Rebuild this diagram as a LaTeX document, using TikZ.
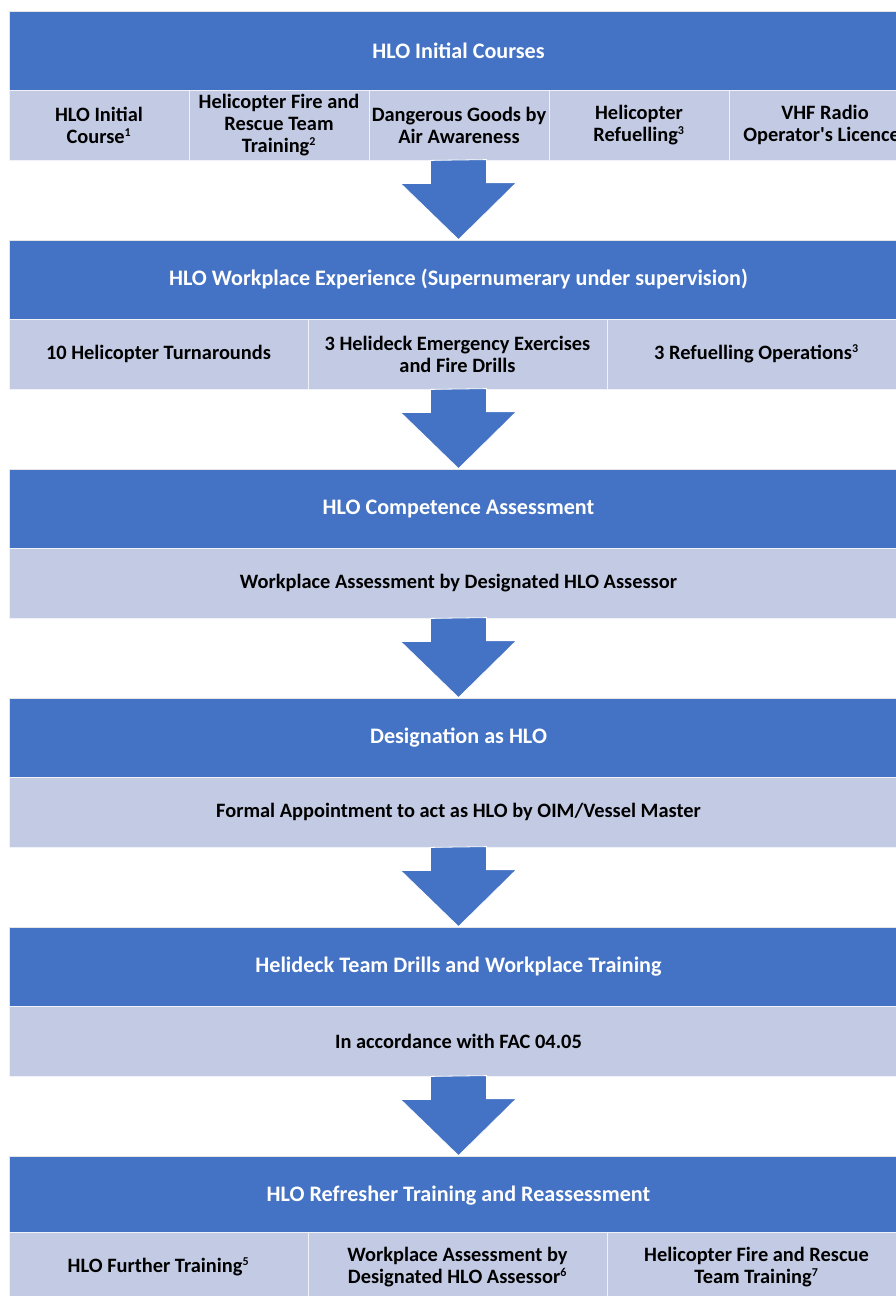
\documentclass[tikz,border=0pt]{standalone}
\usepackage{fontspec}
\setmainfont{Carlito}
\usetikzlibrary{positioning, calc}
\definecolor{HeadBlue}{RGB}{68,114,196}
\definecolor{RowBlue}{RGB}{195,203,228}
\def\px{0.75pt}
\newcommand{\fn}[1]{\textsuperscript{\fontsize{9}{9}\selectfont #1}}
\tikzset{
  headbox/.style={draw=white!80!gray, line width=0.6pt, fill=HeadBlue, text=white,
    minimum width=899*\px, minimum height=79*\px, inner sep=0pt,
    font=\fontsize{16.6}{20}\selectfont\bfseries},
  cellbox/.style={draw=white!75!RowBlue, line width=0.6pt, fill=RowBlue, text=black,
    minimum height=70*\px, inner sep=2pt, align=center,
    font=\fontsize{15.3}{16.5}\selectfont\bfseries},
  blockarr/.style={fill=HeadBlue, draw=white, line width=0.6pt},
}
\begin{document}
\begin{tikzpicture}[x=\px, y=-\px]
  \clip (0,0) rectangle (896,1296);
  \fill[white] (0,0) rectangle (896,1296);
  % stage headers
  \foreach \k/\txt in {1/HLO Initial Courses,
      2/HLO Workplace Experience (Supernumerary under supervision),
      3/HLO Competence Assessment,
      4/Designation as HLO,
      5/Helideck Team Drills and Workplace Training,
      6/HLO Refresher Training and Reassessment} {
    \node[headbox] (h\k) at (458.5,{50.5+229*(\k-1)}) {\txt};
  }
  % initial courses
  \foreach \i/\x/\w/\txt in {1/99/180/{HLO Initial\\Course\fn{1}},
      2/279/180/{Helicopter Fire and\\Rescue Team\\Training\fn{2}},
      3/459/180/{Dangerous Goods by\\Air Awareness},
      4/639/180/{Helicopter\\Refuelling\fn{3}},
      5/825/192/{VHF Radio\\Operator\textquotesingle s Licence\fn{4}}} {
    \node[cellbox, minimum width=\w*\px] (c1-\i) at (\x,125) {\txt};
  }
  % workplace experience
  \foreach \i/\x/\txt in {1/158.5/{10 Helicopter Turnarounds},
      2/457.5/{3 Helideck Emergency Exercises\\and Fire Drills},
      3/756.5/{3 Refuelling Operations\fn{3}}} {
    \node[cellbox, minimum width=299*\px] (c2-\i) at (\x,354) {\txt};
  }
  % single-line rows
  \foreach \k/\txt in {3/{Workplace Assessment by Designated HLO Assessor},
      4/{Formal Appointment to act as HLO by OIM/Vessel Master},
      5/{In accordance with FAC 04.05}} {
    \node[cellbox, minimum width=899*\px] (c\k-1) at (458.5,{125+229*(\k-1)}) {\txt};
  }
  % refresher training
  \foreach \i/\x/\txt in {1/158.5/{HLO Further Training\fn{5}},
      2/457.5/{Workplace Assessment by\\Designated HLO Assessor\fn{6}},
      3/756.5/{Helicopter Fire and Rescue\\Team Training\fn{7}}} {
    \node[cellbox, minimum width=299*\px] (c6-\i) at (\x,1267) {\txt};
  }
  % block arrows between stages
  \foreach \k [evaluate=\k as \n using int(\k+1)] in {1,...,5} {
    \filldraw[blockarr] ($(h\k.south |- c\k-1.south)+(-28,0)$) -- ++(0,23) -- ++(-30,0)
      -- (h\n.north) -- ++(58,-57) -- ++(-30,0) -- ++(0,-23) -- cycle;
  }
\end{tikzpicture}
\end{document}
